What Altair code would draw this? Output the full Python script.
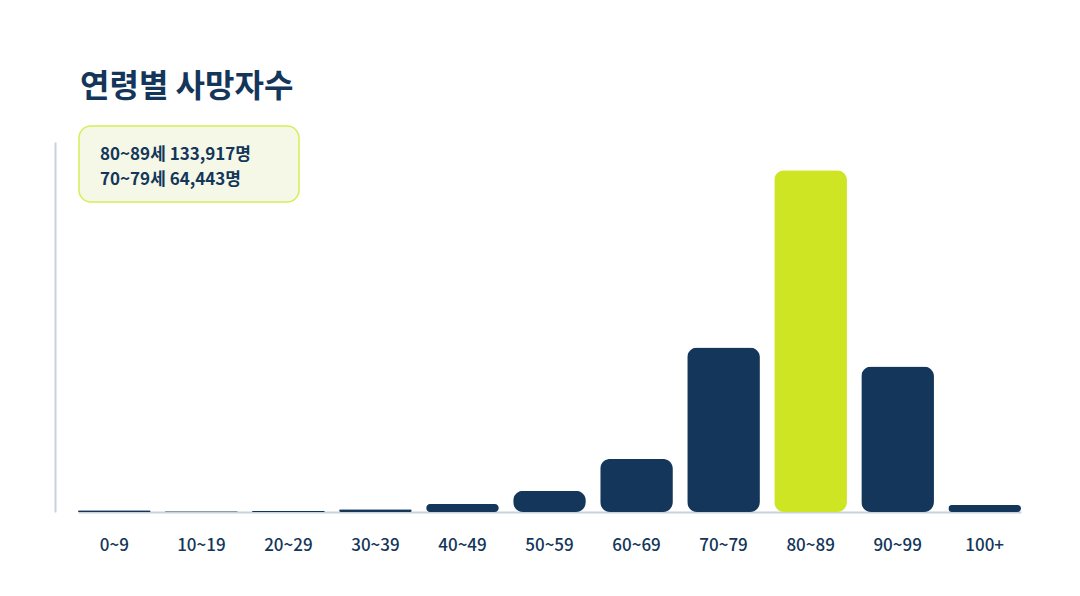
import altair as alt
import pandas as pd

ages = ["0~9", "10~19", "20~29", "30~39", "40~49", "50~59", "60~69", "70~79", "80~89", "90~99", "100+"]
deaths = [650, 250, 450, 1100, 3100, 8300, 20800, 64443, 133917, 57000, 2700]
highlight = "80~89"
notes = ["80~89", "70~79"]

NAVY = "#13365a"
LIME = "#cde523"
AXIS = "#c9d2dd"
FONT = "Noto Sans CJK KR"

df = pd.DataFrame({"age": ages, "deaths": deaths})
df["color"] = [LIME if a == highlight else NAVY for a in ages]

note_text = "\n".join(f"{a}세  {deaths[ages.index(a)]:,}명" for a in notes)
note_df = pd.DataFrame({"label": [note_text]})

x = alt.X("age:N", sort=ages, title=None,
          scale=alt.Scale(paddingInner=0.165, paddingOuter=0, range=[23, 966]),
          axis=alt.Axis(labelAngle=0, ticks=False, labelPadding=25, labelFont=FONT,
                        labelFontSize=17, labelFontWeight=500, labelColor=NAVY,
                        domainColor=AXIS, domainWidth=2))
y = alt.Y("deaths:Q", title=None, scale=alt.Scale(domain=[0, 145000], nice=False),
          axis=alt.Axis(labels=False, ticks=False, grid=False, domainColor=AXIS, domainWidth=2))

bars = alt.Chart(df).mark_bar(cornerRadius=10).encode(
    x=x, y=y, color=alt.Color("color:N", scale=None)
)

box = alt.Chart(note_df).mark_rect(
    fill="#f5f8e7", stroke="#d8ec55", strokeWidth=1.5, cornerRadius=12, clip=False
).encode(
    x=alt.value(24), x2=alt.value(244), y=alt.value(-16), y2=alt.value(60)
)

texts = alt.Chart(note_df).mark_text(
    align="left", baseline="middle", font=FONT, fontSize=17, fontWeight="bold",
    color=NAVY, clip=False, lineBreak="\n", lineHeight=25
).encode(
    x=alt.value(45),
    y=alt.value(13),
    text="label:N",
)

chart = alt.layer(bars, box, texts).properties(
    width=970, height=370,
    padding={"left": 47, "top": 134, "right": 47, "bottom": 76},
    autosize=alt.AutoSizeParams(type="none"),
    background="white",
    title=alt.Title("연령별 사망자수", anchor="start", dx=25, offset=21,
                    font=FONT, fontSize=32, fontWeight="bold", color=NAVY),
).configure_view(stroke=None)

chart.save("out.html", embed_options={"renderer": "svg", "actions": False})
